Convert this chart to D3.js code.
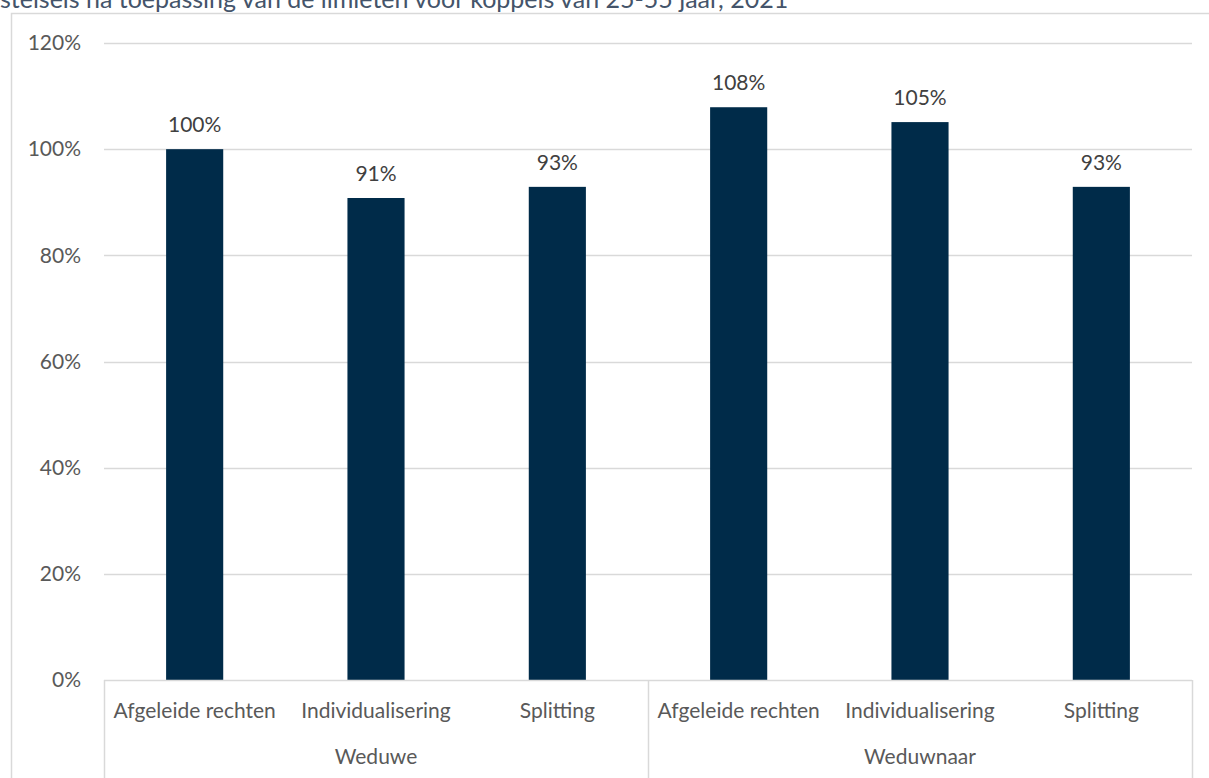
<!DOCTYPE html>
<html>
<head>
<meta charset="utf-8">
<script src="https://cdn.jsdelivr.net/npm/d3@7"></script>
<style>
  html, body { margin: 0; padding: 0; background: #fff; }
  svg { display: block; font-family: Lato, "Open Sans", sans-serif; }
</style>
</head>
<body>
<svg id="chart" width="1209" height="778"></svg>
<script>
// Ratio of household income after the death of a partner, per system
const groups = ["Weduwe", "Weduwnaar"];
const systems = ["Afgeleide rechten", "Individualisering", "Splitting"];
const values = [
  [100.0, 90.8, 92.9],   // Weduwe
  [107.9, 105.1, 92.9]   // Weduwnaar
];
const valueLabels = [
  ["100%", "91%", "93%"],
  ["108%", "105%", "93%"]
];
const yTicks = [0, 20, 40, 60, 80, 100, 120];
const title = "stelsels na toepassing van de limieten voor koppels van 25-55 jaar, 2021";

const rows = [];
groups.forEach((g, gi) => systems.forEach((s, si) => rows.push({
  key: g + "|" + s, group: g, system: s, value: values[gi][si], label: valueLabels[gi][si]
})));

const svg = d3.select("#chart");
const plot = { left: 104, right: 1192, top: 43, bottom: 680 };
const textColor = "#595959";
const gridColor = "#d9d9d9";
const fontSize = 21;

// Title line (partly clipped above the frame)
svg.append("text")
  .attr("x", 0).attr("y", 8)
  .attr("fill", "#44546a")
  .attr("font-size", 25)
  .text(title);

// Chart frame
svg.append("path")
  .attr("d", `M11.5,778 V13.5 H1209`)
  .attr("fill", "none").attr("stroke", gridColor).attr("stroke-width", 1.5);

const x = d3.scaleBand()
  .domain(rows.map(d => d.key))
  .range([plot.left, plot.right])
  .paddingInner(0.685).paddingOuter(0.3425);

const y = d3.scaleLinear().domain([0, 120]).range([plot.bottom, plot.top]);

// Gridlines
svg.append("g")
  .selectAll("line").data(yTicks.filter(t => t > 0)).join("line")
  .attr("x1", plot.left).attr("x2", plot.right)
  .attr("y1", d => Math.round(y(d)) + 0.5).attr("y2", d => Math.round(y(d)) + 0.5)
  .attr("stroke", gridColor).attr("stroke-width", 1.5);

// Y axis labels
const yAxis = d3.axisLeft(y).tickValues(yTicks).tickFormat(d => d + "%").tickSize(0).tickPadding(0);
const yg = svg.append("g").attr("transform", `translate(${plot.left - 23},0)`).call(yAxis);
yg.select(".domain").remove();
yg.selectAll("text").attr("fill", textColor).attr("font-size", fontSize).attr("font-family", "Lato, 'Open Sans', sans-serif");

// Bars
svg.append("g").selectAll("rect").data(rows).join("rect")
  .attr("x", d => x(d.key))
  .attr("width", x.bandwidth())
  .attr("y", d => y(d.value))
  .attr("height", d => y(0) - y(d.value))
  .attr("fill", "#002b49");

// Value labels
svg.append("g").selectAll("text").data(rows).join("text")
  .attr("x", d => x(d.key) + x.bandwidth() / 2)
  .attr("y", d => y(d.value) - 17)
  .attr("text-anchor", "middle")
  .attr("fill", "#404040").attr("font-size", fontSize)
  .text(d => d.label);

// Category axis: baseline, separators and two label levels
svg.append("line")
  .attr("x1", plot.left).attr("x2", plot.right)
  .attr("y1", plot.bottom + 0.5).attr("y2", plot.bottom + 0.5)
  .attr("stroke", gridColor).attr("stroke-width", 1.5);

const groupScale = d3.scaleBand().domain(groups).range([plot.left, plot.right]);
const seps = [plot.left, ...groups.map(g => groupScale(g) + groupScale.bandwidth())];
svg.append("g").selectAll("line").data(seps).join("line")
  .attr("x1", d => Math.round(d) + 0.5).attr("x2", d => Math.round(d) + 0.5)
  .attr("y1", plot.bottom).attr("y2", 778)
  .attr("stroke", gridColor).attr("stroke-width", 1.5);

svg.append("g").selectAll("text").data(rows).join("text")
  .attr("x", d => x(d.key) + x.bandwidth() / 2)
  .attr("y", 718)
  .attr("text-anchor", "middle")
  .attr("fill", textColor).attr("font-size", fontSize)
  .text(d => d.system);

svg.append("g").selectAll("text").data(groups).join("text")
  .attr("x", d => groupScale(d) + groupScale.bandwidth() / 2)
  .attr("y", 764)
  .attr("text-anchor", "middle")
  .attr("fill", textColor).attr("font-size", fontSize)
  .text(d => d);
</script>
</body>
</html>
